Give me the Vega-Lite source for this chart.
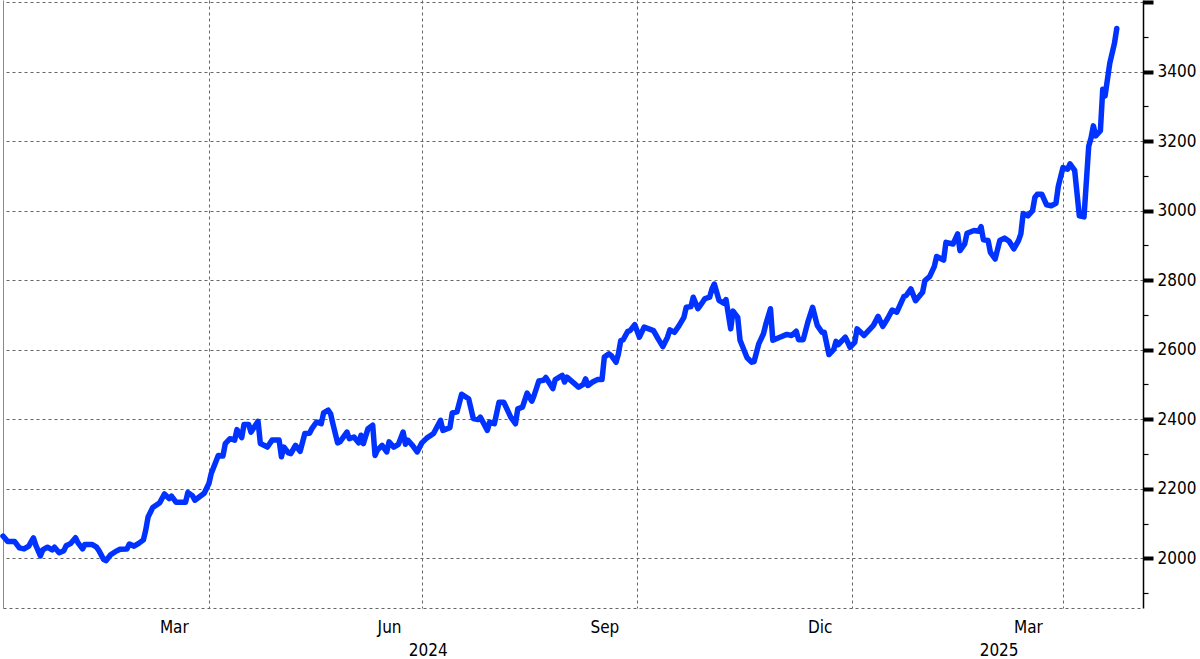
{
  "$schema": "https://vega.github.io/schema/vega-lite/v6.json",
  "width": 1140,
  "height": 608,
  "autosize": {"type": "none"},
  "padding": {"left": 3, "top": 0, "right": 57, "bottom": 51},
  "background": "white",
  "config": {"view": {"stroke": null}, "font": "DejaVu Sans Condensed"},
  "data": {"values": [
    {"date":"2024-01-04","price":2064},{"date":"2024-01-06","price":2048},{"date":"2024-01-09","price":2048},{"date":"2024-01-11","price":2030},
    {"date":"2024-01-13","price":2027},{"date":"2024-01-15","price":2035},{"date":"2024-01-17","price":2059},{"date":"2024-01-18","price":2038},
    {"date":"2024-01-20","price":2007},{"date":"2024-01-21","price":2024},{"date":"2024-01-23","price":2032},{"date":"2024-01-25","price":2024},
    {"date":"2024-01-26","price":2032},{"date":"2024-01-28","price":2016},{"date":"2024-01-30","price":2022},{"date":"2024-01-31","price":2036},
    {"date":"2024-02-02","price":2043},{"date":"2024-02-04","price":2059},{"date":"2024-02-05","price":2045},{"date":"2024-02-07","price":2027},
    {"date":"2024-02-08","price":2040},{"date":"2024-02-11","price":2040},{"date":"2024-02-13","price":2032},{"date":"2024-02-14","price":2022},
    {"date":"2024-02-16","price":1997},{"date":"2024-02-17","price":1993},{"date":"2024-02-19","price":2010},{"date":"2024-02-21","price":2019},
    {"date":"2024-02-23","price":2026},{"date":"2024-02-26","price":2027},{"date":"2024-02-27","price":2041},{"date":"2024-02-29","price":2035},
    {"date":"2024-03-02","price":2043},{"date":"2024-03-04","price":2053},{"date":"2024-03-05","price":2081},{"date":"2024-03-06","price":2119},
    {"date":"2024-03-08","price":2146},{"date":"2024-03-11","price":2160},{"date":"2024-03-13","price":2185},{"date":"2024-03-15","price":2172},
    {"date":"2024-03-16","price":2179},{"date":"2024-03-18","price":2161},{"date":"2024-03-20","price":2161},{"date":"2024-03-22","price":2161},
    {"date":"2024-03-23","price":2189},{"date":"2024-03-25","price":2180},{"date":"2024-03-26","price":2167},{"date":"2024-03-28","price":2177},
    {"date":"2024-03-30","price":2187},{"date":"2024-04-01","price":2215},{"date":"2024-04-02","price":2244},{"date":"2024-04-05","price":2296},
    {"date":"2024-04-07","price":2294},{"date":"2024-04-08","price":2330},{"date":"2024-04-10","price":2344},{"date":"2024-04-12","price":2340},
    {"date":"2024-04-13","price":2370},{"date":"2024-04-15","price":2347},{"date":"2024-04-16","price":2385},{"date":"2024-04-18","price":2385},
    {"date":"2024-04-19","price":2363},{"date":"2024-04-22","price":2394},{"date":"2024-04-23","price":2330},{"date":"2024-04-26","price":2320},
    {"date":"2024-04-28","price":2340},{"date":"2024-05-01","price":2340},{"date":"2024-05-02","price":2292},{"date":"2024-05-03","price":2320},
    {"date":"2024-05-05","price":2303},{"date":"2024-05-06","price":2301},{"date":"2024-05-08","price":2325},{"date":"2024-05-10","price":2308},
    {"date":"2024-05-12","price":2359},{"date":"2024-05-14","price":2360},{"date":"2024-05-15","price":2373},{"date":"2024-05-17","price":2392},
    {"date":"2024-05-19","price":2387},{"date":"2024-05-20","price":2418},{"date":"2024-05-22","price":2426},{"date":"2024-05-23","price":2416},
    {"date":"2024-05-24","price":2387},{"date":"2024-05-26","price":2332},{"date":"2024-05-27","price":2335},{"date":"2024-05-30","price":2363},
    {"date":"2024-05-31","price":2344},{"date":"2024-06-02","price":2349},{"date":"2024-06-04","price":2332},{"date":"2024-06-05","price":2354},
    {"date":"2024-06-06","price":2330},{"date":"2024-06-08","price":2373},{"date":"2024-06-10","price":2383},{"date":"2024-06-11","price":2296},
    {"date":"2024-06-12","price":2311},{"date":"2024-06-14","price":2325},{"date":"2024-06-16","price":2306},{"date":"2024-06-17","price":2335},
    {"date":"2024-06-19","price":2320},{"date":"2024-06-21","price":2328},{"date":"2024-06-23","price":2363},{"date":"2024-06-24","price":2328},
    {"date":"2024-06-25","price":2340},{"date":"2024-06-27","price":2325},{"date":"2024-06-29","price":2306},{"date":"2024-07-01","price":2332},
    {"date":"2024-07-03","price":2345},{"date":"2024-07-06","price":2359},{"date":"2024-07-09","price":2397},{"date":"2024-07-10","price":2368},
    {"date":"2024-07-13","price":2376},{"date":"2024-07-14","price":2418},{"date":"2024-07-16","price":2421},{"date":"2024-07-18","price":2472},
    {"date":"2024-07-21","price":2459},{"date":"2024-07-23","price":2402},{"date":"2024-07-25","price":2399},{"date":"2024-07-26","price":2406},
    {"date":"2024-07-29","price":2368},{"date":"2024-07-30","price":2392},{"date":"2024-08-01","price":2387},{"date":"2024-08-03","price":2449},
    {"date":"2024-08-05","price":2449},{"date":"2024-08-08","price":2406},{"date":"2024-08-10","price":2387},{"date":"2024-08-11","price":2430},
    {"date":"2024-08-13","price":2435},{"date":"2024-08-15","price":2475},{"date":"2024-08-17","price":2452},{"date":"2024-08-18","price":2469},
    {"date":"2024-08-20","price":2510},{"date":"2024-08-22","price":2512},{"date":"2024-08-23","price":2520},{"date":"2024-08-26","price":2488},
    {"date":"2024-08-27","price":2514},{"date":"2024-08-30","price":2526},{"date":"2024-08-31","price":2507},{"date":"2024-09-01","price":2521},
    {"date":"2024-09-04","price":2504},{"date":"2024-09-06","price":2492},{"date":"2024-09-08","price":2500},{"date":"2024-09-09","price":2516},
    {"date":"2024-09-10","price":2497},{"date":"2024-09-12","price":2507},{"date":"2024-09-14","price":2514},{"date":"2024-09-16","price":2514},
    {"date":"2024-09-17","price":2579},{"date":"2024-09-19","price":2588},{"date":"2024-09-20","price":2583},{"date":"2024-09-22","price":2564},
    {"date":"2024-09-23","price":2588},{"date":"2024-09-24","price":2626},{"date":"2024-09-25","price":2628},{"date":"2024-09-27","price":2653},
    {"date":"2024-09-28","price":2655},{"date":"2024-09-30","price":2672},{"date":"2024-10-02","price":2636},{"date":"2024-10-04","price":2665},
    {"date":"2024-10-06","price":2660},{"date":"2024-10-08","price":2655},{"date":"2024-10-10","price":2631},{"date":"2024-10-12","price":2609},
    {"date":"2024-10-14","price":2636},{"date":"2024-10-15","price":2657},{"date":"2024-10-17","price":2650},{"date":"2024-10-19","price":2670},
    {"date":"2024-10-21","price":2693},{"date":"2024-10-22","price":2722},{"date":"2024-10-24","price":2724},{"date":"2024-10-25","price":2751},
    {"date":"2024-10-27","price":2718},{"date":"2024-10-29","price":2737},{"date":"2024-10-30","price":2747},{"date":"2024-11-01","price":2751},
    {"date":"2024-11-02","price":2775},{"date":"2024-11-03","price":2789},{"date":"2024-11-05","price":2742},{"date":"2024-11-07","price":2734},
    {"date":"2024-11-08","price":2744},{"date":"2024-11-10","price":2660},{"date":"2024-11-11","price":2711},{"date":"2024-11-13","price":2693},
    {"date":"2024-11-14","price":2627},{"date":"2024-11-17","price":2577},{"date":"2024-11-19","price":2564},{"date":"2024-11-20","price":2566},
    {"date":"2024-11-22","price":2617},{"date":"2024-11-24","price":2646},{"date":"2024-11-25","price":2673},{"date":"2024-11-27","price":2718},
    {"date":"2024-11-28","price":2627},{"date":"2024-12-01","price":2636},{"date":"2024-12-04","price":2644},{"date":"2024-12-06","price":2641},
    {"date":"2024-12-08","price":2653},{"date":"2024-12-09","price":2629},{"date":"2024-12-11","price":2629},{"date":"2024-12-13","price":2680},
    {"date":"2024-12-15","price":2722},{"date":"2024-12-17","price":2670},{"date":"2024-12-19","price":2650},{"date":"2024-12-20","price":2650},
    {"date":"2024-12-22","price":2586},{"date":"2024-12-24","price":2600},{"date":"2024-12-25","price":2624},{"date":"2024-12-26","price":2615},
    {"date":"2024-12-29","price":2636},{"date":"2024-12-31","price":2607},{"date":"2025-01-02","price":2621},{"date":"2025-01-03","price":2660},
    {"date":"2025-01-06","price":2641},{"date":"2025-01-10","price":2670},{"date":"2025-01-12","price":2696},{"date":"2025-01-14","price":2667},
    {"date":"2025-01-16","price":2689},{"date":"2025-01-18","price":2714},{"date":"2025-01-20","price":2708},{"date":"2025-01-23","price":2753},
    {"date":"2025-01-24","price":2756},{"date":"2025-01-26","price":2775},{"date":"2025-01-28","price":2741},{"date":"2025-01-31","price":2765},
    {"date":"2025-02-01","price":2799},{"date":"2025-02-03","price":2810},{"date":"2025-02-05","price":2839},{"date":"2025-02-06","price":2868},
    {"date":"2025-02-09","price":2858},{"date":"2025-02-10","price":2909},{"date":"2025-02-13","price":2904},{"date":"2025-02-15","price":2933},
    {"date":"2025-02-16","price":2885},{"date":"2025-02-18","price":2904},{"date":"2025-02-19","price":2935},{"date":"2025-02-22","price":2943},
    {"date":"2025-02-24","price":2941},{"date":"2025-02-25","price":2954},{"date":"2025-02-26","price":2916},{"date":"2025-02-28","price":2914},
    {"date":"2025-03-01","price":2880},{"date":"2025-03-03","price":2861},{"date":"2025-03-05","price":2914},{"date":"2025-03-07","price":2921},
    {"date":"2025-03-09","price":2912},{"date":"2025-03-11","price":2890},{"date":"2025-03-13","price":2914},{"date":"2025-03-14","price":2933},
    {"date":"2025-03-15","price":2992},{"date":"2025-03-17","price":2985},{"date":"2025-03-19","price":3000},{"date":"2025-03-20","price":3038},
    {"date":"2025-03-21","price":3047},{"date":"2025-03-23","price":3047},{"date":"2025-03-25","price":3017},{"date":"2025-03-27","price":3014},
    {"date":"2025-03-29","price":3021},{"date":"2025-03-30","price":3070},{"date":"2025-04-01","price":3124},{"date":"2025-04-03","price":3119},
    {"date":"2025-04-04","price":3135},{"date":"2025-04-06","price":3116},{"date":"2025-04-08","price":2985},{"date":"2025-04-10","price":2982},
    {"date":"2025-04-12","price":3185},{"date":"2025-04-13","price":3209},{"date":"2025-04-14","price":3244},{"date":"2025-04-15","price":3215},
    {"date":"2025-04-17","price":3230},{"date":"2025-04-18","price":3349},{"date":"2025-04-19","price":3330},{"date":"2025-04-21","price":3424},
    {"date":"2025-04-23","price":3481},{"date":"2025-04-24","price":3524}
  ]},
  "mark": {"type": "line", "color": "#0033ff", "strokeWidth": 5.5, "strokeJoin": "round", "strokeCap": "round", "clip": false},
  "encoding": {
    "x": {
      "field": "date", "type": "temporal",
      "scale": {"type": "utc", "domain": [{"year": 2024, "month": 1, "date": 4, "utc": true}, {"year": 2025, "month": 5, "date": 5, "hours": 5, "utc": true}]},
      "axis": {
        "title": null,
        "values": [
          {"year": 2024, "month": 1, "date": 4, "utc": true},
          {"year": 2024, "month": 3, "date": 17, "utc": true},
          {"year": 2024, "month": 4, "date": 1, "utc": true},
          {"year": 2024, "month": 6, "date": 17, "utc": true},
          {"year": 2024, "month": 7, "date": 1, "utc": true},
          {"year": 2024, "month": 7, "date": 3, "hours": 12, "utc": true},
          {"year": 2024, "month": 9, "date": 17, "utc": true},
          {"year": 2024, "month": 10, "date": 1, "utc": true},
          {"year": 2024, "month": 12, "date": 18, "utc": true},
          {"year": 2025, "month": 1, "date": 1, "utc": true},
          {"year": 2025, "month": 3, "date": 4, "hours": 12, "utc": true},
          {"year": 2025, "month": 3, "date": 17, "utc": true},
          {"year": 2025, "month": 4, "date": 1, "utc": true}
        ],
        "labelExpr": "utchours(datum.value) == 12 ? utcFormat(datum.value, '%Y') : (utcdate(datum.value) > 10 ? ['Ene','Feb','Mar','Abr','May','Jun','Jul','Ago','Sep','Oct','Nov','Dic'][utcmonth(datum.value)] : '')",
        "labelOverlap": false,
        "labelFlush": false,
        "labelFont": "DejaVu Sans Condensed",
        "labelFontSize": 17,
        "labelColor": "black",
        "labelPadding": {"condition": {"test": "utchours(datum.value) == 12", "value": 34}, "value": 11},
        "ticks": false,
        "domain": true,
        "domainColor": "#666666",
        "domainDash": [3, 3],
        "domainWidth": 1,
        "grid": true,
        "gridWidth": 1,
        "gridColor": {"condition": {"test": "utcdate(datum.value) == 4 && utcmonth(datum.value) == 0", "value": "#8a8a8a"}, "value": "#666666"},
        "gridDash": {"condition": {"test": "utcdate(datum.value) == 4 && utcmonth(datum.value) == 0", "value": []}, "value": [3, 3]},
        "gridOpacity": {"condition": {"test": "utcdate(datum.value) == 1 || (utcdate(datum.value) == 4 && utcmonth(datum.value) == 0)", "value": 1}, "value": 0}
      }
    },
    "y": {
      "field": "price", "type": "quantitative",
      "scale": {"domain": [1857, 3606], "nice": false, "zero": false},
      "axis": {
        "orient": "right",
        "title": null,
        "values": [1900, 2000, 2100, 2200, 2300, 2400, 2500, 2600, 2700, 2800, 2900, 3000, 3100, 3200, 3300, 3400, 3500, 3600],
        "format": "d",
        "labelExpr": "datum.value % 200 == 0 && datum.value < 3600 ? datum.label : ''",
        "labelOverlap": false,
        "labelFlush": false,
        "labelFont": "DejaVu Sans Condensed",
        "labelFontSize": 17,
        "labelColor": "black",
        "labelPadding": 4,
        "tickColor": "black",
        "tickSize": {"condition": {"test": "datum.value % 200 == 0", "value": 10}, "value": 5},
        "tickWidth": {"condition": {"test": "datum.value % 200 == 0", "value": 4}, "value": 1.2},
        "domainColor": "black",
        "domainWidth": 1.5,
        "grid": true,
        "gridColor": "#666666",
        "gridDash": [3, 3],
        "gridWidth": 1,
        "gridOpacity": {"condition": {"test": "datum.value % 200 == 0", "value": 1}, "value": 0}
      }
    }
  }
}
